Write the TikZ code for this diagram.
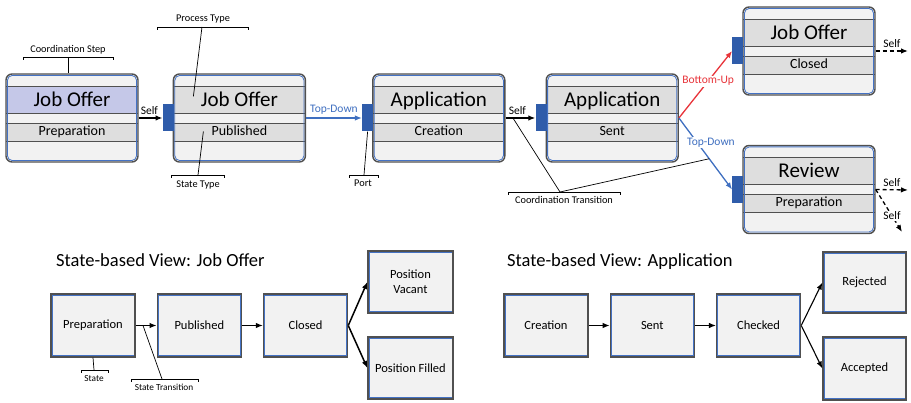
\documentclass[tikz,border=0pt]{standalone}
\usepackage{fontspec}
\setmainfont{Carlito}
\usetikzlibrary{arrows.meta, positioning, calc}

\definecolor{boxbg}{HTML}{F2F2F2}
\definecolor{bandgray}{HTML}{DEDEDE}
\definecolor{bandblue}{HTML}{C5C8E8}
\definecolor{boxdark}{HTML}{505050}
\definecolor{innerblue}{HTML}{4472C4}
\definecolor{portblue}{HTML}{2F5CAA}
\definecolor{flowblue}{HTML}{3F6FC0}
\definecolor{flowred}{HTML}{E8343A}

\tikzset{
    procbox/.style={rectangle, rounded corners=6pt, minimum width=132pt, minimum height=88pt, inner sep=0pt, draw=boxdark, line width=1.4pt, fill=boxbg,
        path picture={
            \fill[#1, sharp corners] ([yshift=-12pt]path picture bounding box.north west) rectangle ([yshift=-39pt]path picture bounding box.north east);
            \fill[bandgray, sharp corners] ([yshift=-49pt]path picture bounding box.north west) rectangle ([yshift=-67pt]path picture bounding box.north east);
            \foreach \dd in {12,39,49,67}{
                \draw[boxdark, line width=0.9pt, sharp corners] ([yshift=-\dd pt]path picture bounding box.north west) -- ([yshift=-\dd pt]path picture bounding box.north east);
            }
            \draw[innerblue, line width=0.8pt, rounded corners=5pt] ([shift={(1.4pt,1.4pt)}]path picture bounding box.south west) rectangle ([shift={(-1.4pt,-1.4pt)}]path picture bounding box.north east);
        }},
    procbox/.default=bandgray,
    statebox/.style={rectangle, minimum width=84pt, minimum height=63pt, inner sep=2pt, align=center, draw=boxdark, line width=1.3pt, fill=boxbg, font=\fontsize{12.5}{15}\selectfont,
        path picture={
            \draw[innerblue, line width=0.8pt] ([shift={(1.1pt,1.1pt)}]path picture bounding box.south west) rectangle ([shift={(-1.1pt,-1.1pt)}]path picture bounding box.north east);
        }},
    port/.style={rectangle, fill=portblue, minimum width=11pt, minimum height=27pt, inner sep=0pt},
    titletxt/.style={font=\fontsize{21}{24}\selectfont, inner sep=0pt, anchor=base},
    statetxt/.style={font=\fontsize{14}{16}\selectfont, inner sep=0pt, anchor=base},
    viewtitle/.style={font=\fontsize{18.5}{21}\selectfont, inner sep=0pt, anchor=base west},
    lbl/.style={font=\fontsize{11.5}{13}\selectfont, inner sep=1pt},
    annot/.style={font=\fontsize{10.3}{12}\selectfont, inner sep=0pt},
    smallannot/.style={font=\fontsize{9.3}{11}\selectfont, inner sep=0pt},
    annotline/.style={line width=0.7pt, black},
    flow/.style={line width=1.3pt},
    selfdash/.style={line width=1.3pt, dash pattern=on 4pt off 3pt}
}

\begin{document}
\begin{tikzpicture}[x=1pt, y=-1pt, >={Latex[length=7pt,width=5.5pt]}]
    \useasboundingbox (0,0) rectangle (911,403);

    % Process view
    \node (jo1) [procbox=bandblue] at (72,118) {};
    \node (jo1t) [titletxt] at ([yshift=-33pt]jo1.north) {Job Offer};
    \node (jo1s) [statetxt] at ([yshift=-62pt]jo1.north) {Preparation};

    \node (jo2) [procbox, right=34pt of jo1] {};
    \node (jo2t) [titletxt] at ([yshift=-33pt]jo2.north) {Job Offer};
    \node (jo2s) [statetxt] at ([yshift=-62pt]jo2.north) {Published};
    \node (jo2p) [port] at ([xshift=-4.5pt]jo2.west) {};

    \node (app1) [procbox, right=66pt of jo2] {};
    \node (app1t) [titletxt] at ([yshift=-33pt]app1.north) {Application};
    \node (app1s) [statetxt] at ([yshift=-62pt]app1.north) {Creation};
    \node (app1p) [port] at ([xshift=-4.5pt]app1.west) {};

    \node (app2) [procbox, right=40pt of app1] {};
    \node (app2t) [titletxt] at ([yshift=-33pt]app2.north) {Application};
    \node (app2s) [statetxt] at ([yshift=-62pt]app2.north) {Sent};
    \node (app2p) [port] at ([xshift=-4.5pt]app2.west) {};

    \node (jo3) [procbox] at (809,51) {};
    \node (jo3t) [titletxt] at ([yshift=-33pt]jo3.north) {Job Offer};
    \node (jo3s) [statetxt] at ([yshift=-62pt]jo3.north) {Closed};
    \node (jo3p) [port] at ([xshift=-4.5pt]jo3.west) {};

    \node (rev) [procbox] at (809,189.5) {};
    \node (revt) [titletxt] at ([yshift=-33pt]rev.north) {Review};
    \node (revs) [statetxt] at ([yshift=-62pt]rev.north) {Preparation};
    \node (revp) [port] at ([xshift=-4.5pt]rev.west) {};

    % Coordination transitions
    \draw[flow, ->] (jo1.east) -- node[lbl, above, pos=0.45, yshift=2pt] {Self} (jo2p.west);
    \draw[flow, ->, flowblue] (jo2.east) -- node[lbl, above, text=flowblue, yshift=2pt] {Top-Down} (app1p.west);
    \draw[flow, ->] (app1.east) -- coordinate[pos=0.25] (ctA) node[lbl, above, pos=0.4, yshift=2pt] {Self} (app2p.west);
    \draw[flow, ->, flowred] (app2.east) -- node[lbl, fill=white, text=flowred, pos=0.55] {Bottom-Up} (jo3p.west);
    \draw[flow, ->, flowblue] (app2.east) -- coordinate[pos=0.57] (ctB) node[lbl, fill=white, text=flowblue, pos=0.34, xshift=14pt] {Top-Down} (revp.west);

    \coordinate (jo3self) at (908,51);
    \draw[selfdash, ->] (jo3.east) -- node[lbl, above, yshift=2pt] {Self} (jo3self);
    \coordinate (revself) at (908,190);
    \draw[selfdash, ->] (rev.east) -- node[lbl, above, yshift=2pt] {Self} (revself);
    \coordinate (revself2) at (902,232);
    \draw[selfdash, ->] (rev.east) -- node[lbl, fill=white, pos=0.62] {Self} (revself2);

    % Annotations
    \node (cstep) [annot] at (68,50) {Coordination Step};
    \draw[annotline] (23,60) |- (113,57) -- (113,60);
    \coordinate (cstepm) at (68,57);
    \draw[annotline] (cstepm) -- (cstepm |- jo1.north);

    \node (ptype) [annot] at (203,19) {Process Type};
    \draw[annotline] (157,30) |- (248,27) -- (248,30);
    \coordinate (ptypem) at (202,27);
    \draw[annotline] (ptypem) -- ([xshift=-46pt,yshift=-23pt]jo2.north);

    \node (stype) [annot] at (198,185) {State Type};
    \draw[annotline] (171,178) |- (224,175) -- (224,178);
    \coordinate (stypem) at (198,175);
    \draw[annotline] (stypem) -- ([xshift=-36pt,yshift=-58pt]jo2.north);

    \node (portl) [annot] at (363,183) {Port};
    \draw[annotline] (349,178) |- (378,175) -- (378,178);
    \coordinate (portm) at (364,175);
    \draw[annotline] (portm) -- (app1p.south);

    \node (ctrans) [annot] at (564,200) {Coordination Transition};
    \draw[annotline] (508,195) |- (620,192) -- (620,195);
    \coordinate (ctransm) at (560,192);
    \draw[annotline] (ctA) -- (ctransm) -- (ctB);

    % State-based view: Job Offer
    \node (jotitle) [viewtitle] at (56,267) {State-based View: Job Offer};
    \node (prep) [statebox] at (93,325.5) {Preparation};
    \node (pub) [statebox, right=21pt of prep] {Published};
    \node (closed) [statebox, right=21pt of pub] {Closed};
    \node (vacant) [statebox, minimum width=85pt, minimum height=62pt] at (410.5,282) {Position\\Vacant};
    \node (filled) [statebox, minimum width=85pt, minimum height=62pt] at (410.5,368) {Position Filled};

    \draw[flow, ->, line width=1.5pt] (prep.east) -- coordinate[pos=0.35] (stm) (pub.west);
    \draw[flow, ->, line width=1.5pt] (pub) -- (closed);
    \draw[flow, ->, line width=1.5pt] (closed.east) -- (vacant.west);
    \draw[flow, ->, line width=1.5pt] (closed.east) -- (filled.west);

    \node (statel) [smallannot] at (94,379) {State};
    \draw[annotline] (81,373) |- (108,370) -- (108,373);
    \coordinate (statem) at (94,370);
    \draw[annotline] (prep.south) -- (statem);

    \node (transl) [smallannot] at (164,387) {State Transition};
    \draw[annotline] (131,382) |- (198,379) -- (198,382);
    \coordinate (transm) at (162,379);
    \draw[annotline] (stm) -- (transm);

    % State-based view: Application
    \node (apptitle) [viewtitle] at (507,267) {State-based View: Application};
    \node (creation) [statebox] at (546,325.5) {Creation};
    \node (sent) [statebox, right=21pt of creation] {Sent};
    \node (checked) [statebox, right=21pt of sent] {Checked};
    \node (rejected) [statebox, minimum width=83pt, minimum height=61pt] at (864.5,282.5) {Rejected};
    \node (accepted) [statebox, minimum width=83pt, minimum height=63pt] at (864.5,368.5) {Accepted};

    \draw[flow, ->, line width=1.1pt] (creation) -- (sent);
    \draw[flow, ->, line width=1.1pt] (sent) -- (checked);
    \draw[flow, ->, line width=1.1pt] (checked.east) -- (rejected.west);
    \draw[flow, ->, line width=1.1pt] (checked.east) -- (accepted.west);
\end{tikzpicture}
\end{document}
